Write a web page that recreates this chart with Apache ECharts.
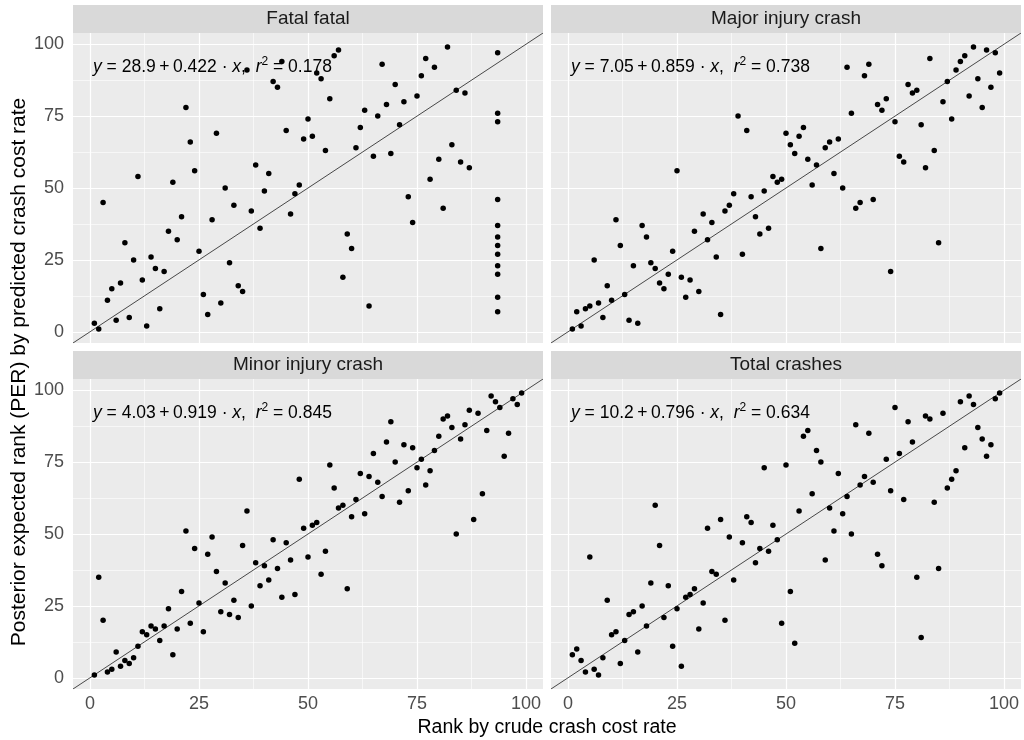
<!DOCTYPE html>
<html>
<head>
<meta charset="utf-8">
<script src="https://cdn.jsdelivr.net/npm/echarts@6/dist/echarts.min.js"></script>
<style>
  html, body { margin: 0; padding: 0; background: #fff; }
  #chart { width: 1024px; height: 740px; }
</style>
</head>
<body>
<div id="chart"></div>
<script>
// ranks by crude crash cost rate (x) and posterior expected rank (y)
var rankX = [1,2,3,4,5,6,7,8,9,10,11,12,13,14,15,16,17,18,19,20,21,22,23,24,25,26,27,28,29,30,
  31,32,33,34,35,36,37,38,39,40,41,42,43,44,45,46,47,48,49,50,51,52,53,54,55,56,57,58,59,60,
  61,62,63,64,65,66,67,68,69,70,71,72,73,74,75,76,77,78,79,80,81,82,83,84,85,86,87,88,89,90,
  91,92,93,94,95,96,97,98,99];

var fatalX = [1,2,3,4,5,6,7,8,9,10,11,12,13,14,15,16,17,18,19,20,21,22,23,24,25,26,27,28,29,30,
  31,32,33,34,35,36,37,38,39,40,41,42,43,44,45,46,47,48,49,50,51,52,53,54,55,56,57,58,59,60,
  61,62,63,64,65,66,67,68,69,70,71,72,73,74,75,76,77,78,79,80,81,82,83,84,85,86,87,
  93.5,93.5,93.5,93.5,93.5,93.5,93.5,93.5,93.5,93.5,93.5,93.5];
var fatalY = [3,1,45,11,15,4,17,31,5,25,54,18,2,26,22,8,21,35,52,32,40,78,66,56,28,13,6,39,69,10,
  50,24,44,16,14,91,42,58,36,49,55,87,85,94,70,41,48,51,67,74,68,90,88,63,81,96,98,19,34,29,
  64,71,77,9,61,75,93,79,62,86,72,80,47,38,82,89,95,53,92,60,43,99,65,84,59,83,57,
  97,76,73,46,37,33,30,27,23,20,12,7];

var majorY = [1,7,2,8,9,25,10,5,16,11,39,30,13,4,23,3,37,33,24,22,17,15,20,28,56,19,12,18,35,14,
  41,32,38,26,6,42,44,48,75,27,70,47,40,34,49,36,54,52,53,69,65,62,68,71,60,51,58,29,64,66,
  55,67,50,92,76,43,45,89,93,46,79,77,81,21,73,61,59,86,83,84,72,57,95,63,31,80,87,74,91,94,
  96,82,99,88,78,98,85,97,90];

var minorY = [1,35,20,2,3,9,4,6,5,7,11,16,15,18,17,13,18,24,8,17,30,51,19,45,26,16,43,49,37,23,
  33,22,27,21,46,58,25,40,32,39,34,48,38,28,47,41,29,69,52,42,53,54,36,44,74,66,59,60,31,56,
  62,71,57,70,78,68,63,82,89,75,61,81,65,80,73,76,67,72,79,84,90,91,87,50,83,88,93,55,92,64,
  86,98,96,94,77,85,97,95,99];

var totalX = [1,2,3,4,5,6,7,8,9,10,11,12,13,14,15,16,17,18,19,20,21,22,23,24,25,26,27,28,29,30,
  31,32,33,34,35,36,37,38,40,41,42,43,44,45,46,47,48,49,50,51,52,53,54,55,56,57,58,59,60,
  61,62,63,64,65,66,67,68,69,70,71,72,73,74,75,76,77,78,79,80,81,82,83,84,85,86,87,88,89,90,
  91,92,93,94,95,96,97,98,99];
var totalY = [8,10,6,2,42,3,1,7,27,15,16,5,13,22,23,9,25,18,33,60,46,21,32,11,24,4,28,29,31,17,
  26,52,37,36,55,20,49,34,47,56,54,40,45,73,44,53,48,19,74,30,12,58,84,86,64,79,75,41,59,
  51,71,57,63,50,88,67,70,85,68,43,39,76,65,94,78,62,89,82,35,14,91,90,61,38,92,66,69,72,96,
  80,98,95,87,83,77,81,97,99];

var panelNames = ['Fatal fatal', 'Major injury crash', 'Minor injury crash', 'Total crashes'];
var eqIntercept = ['28.9', '7.05', '4.03', '10.2'];
var eqSlope = ['0.422', '0.859', '0.919', '0.796'];
var eqR2 = ['0.178', '0.738', '0.845', '0.634'];
var majorTicks = [0, 25, 50, 75, 100];
var minorTicks = [12.5, 37.5, 62.5, 87.5];
var axisMin = -3.9, axisMax = 103.9;

var panelX = [fatalX, rankX, rankX, totalX];
var panelY = [fatalY, majorY, minorY, totalY];

var font = 'Liberation Sans, Arial, sans-serif';
var grids = [
  {left: 73, top: 33, width: 470, height: 310},
  {left: 551, top: 33, width: 470, height: 310},
  {left: 73, top: 379, width: 470, height: 310},
  {left: 551, top: 379, width: 470, height: 310}
];

function gridLineData() {
  var minor = {type: 'solid', color: '#fff', width: 0.6, opacity: 1};
  var major = {type: 'solid', color: '#fff', width: 1.2, opacity: 1};
  var d = [];
  minorTicks.forEach(function (v) {
    d.push({xAxis: v, lineStyle: minor});
    d.push({yAxis: v, lineStyle: minor});
  });
  majorTicks.forEach(function (v) {
    d.push({xAxis: v, lineStyle: major});
    d.push({yAxis: v, lineStyle: major});
  });
  return d;
}

var xAxes = [], yAxes = [], series = [], graphics = [];

grids.forEach(function (g, i) {
  var bottomRow = i >= 2, leftCol = i % 2 === 0;
  xAxes.push({
    type: 'value', gridIndex: i, min: axisMin, max: axisMax,
    axisLine: {show: false},
    axisTick: {show: bottomRow, length: 4, customValues: majorTicks, lineStyle: {color: '#333', width: 1}},
    axisLabel: {show: bottomRow, customValues: majorTicks, margin: 6, color: '#4D4D4D', fontSize: 18, fontFamily: font},
    splitLine: {show: false}
  });
  yAxes.push({
    type: 'value', gridIndex: i, min: axisMin, max: axisMax,
    axisLine: {show: false},
    axisTick: {show: leftCol, length: 4, customValues: majorTicks, lineStyle: {color: '#333', width: 1}},
    axisLabel: {show: leftCol, customValues: majorTicks, margin: 9, color: '#4D4D4D', fontSize: 18, fontFamily: font},
    splitLine: {show: false}
  });

  // white grid lines, kept under the points
  series.push({
    type: 'scatter', xAxisIndex: i, yAxisIndex: i, data: [], silent: true, z: 1,
    markLine: {
      z: 1, silent: true, symbol: ['none', 'none'], animation: false,
      label: {show: false}, emphasis: {disabled: true},
      data: gridLineData()
    }
  });

  // y = x reference line
  series.push({
    type: 'line', xAxisIndex: i, yAxisIndex: i, silent: true, z: 3,
    showSymbol: false, symbol: 'none',
    data: [[axisMin, axisMin], [axisMax, axisMax]],
    lineStyle: {color: '#000', width: 0.7}
  });

  var xs = panelX[i], ys = panelY[i];
  series.push({
    type: 'scatter', xAxisIndex: i, yAxisIndex: i, z: 4,
    symbolSize: 5.5,
    itemStyle: {color: '#000', opacity: 1},
    data: xs.map(function (x, k) { return [x, ys[k]]; })
  });

  // facet strip
  graphics.push({
    type: 'rect', silent: true,
    shape: {x: g.left, y: g.top - 28, width: g.width, height: 28},
    style: {fill: '#D9D9D9'}
  });
  graphics.push({
    type: 'text', silent: true, x: g.left + g.width / 2, y: g.top - 14,
    style: {text: panelNames[i], fill: '#1A1A1A', font: '19px ' + font, align: 'center', verticalAlign: 'middle'}
  });

  // fitted equation
  graphics.push({
    type: 'text', silent: true, z: 10, x: g.left + 20, y: g.top + 34,
    style: {
      text: '{i|y} = ' + eqIntercept[i] + '\u2009+\u2009' + eqSlope[i] + ' \u00b7 {i|x},  {i|r}{s|2} = ' + eqR2[i],
      fill: '#000', font: '17.5px ' + font, align: 'left', verticalAlign: 'middle', lineHeight: 22,
      rich: {
        i: {fontStyle: 'italic', fontSize: 17.5, fontFamily: font, lineHeight: 22},
        s: {fontSize: 12, fontFamily: font, verticalAlign: 'top', lineHeight: 14}
      }
    }
  });
});

graphics.push({
  type: 'text', silent: true, x: 547, y: 728,
  style: {text: 'Rank by crude crash cost rate', fill: '#000', font: '19.5px ' + font, align: 'center', verticalAlign: 'middle'}
});
graphics.push({
  type: 'text', silent: true, x: 19, y: 372, rotation: Math.PI / 2,
  style: {text: 'Posterior expected rank (PER) by predicted crash cost rate', fill: '#000', font: '21px ' + font, align: 'center', verticalAlign: 'middle'}
});

var chart = echarts.init(document.getElementById('chart'), null, {renderer: 'canvas'});
chart.setOption({
  animation: false,
  backgroundColor: '#fff',
  grid: grids.map(function (g) {
    return {left: g.left, top: g.top, width: g.width, height: g.height, show: true, backgroundColor: '#EBEBEB', borderWidth: 0};
  }),
  xAxis: xAxes,
  yAxis: yAxes,
  series: series,
  graphic: graphics
});
</script>
</body>
</html>
